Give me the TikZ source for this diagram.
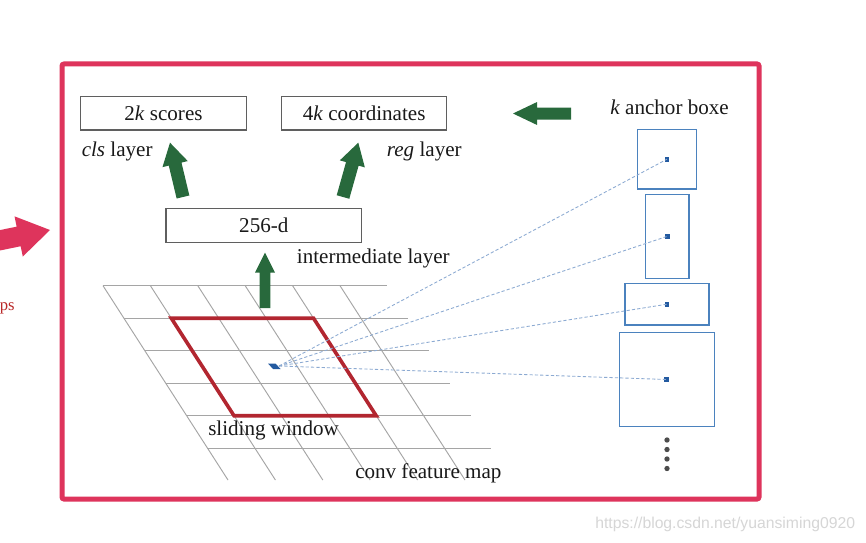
\documentclass[tikz,border=0pt]{standalone}
\usepackage{fontspec}
\setmainfont{Liberation Serif}
\newfontfamily\wmfont{Liberation Sans}
\usetikzlibrary{calc}
\definecolor{framepink}{RGB}{222,52,92}
\definecolor{arrowgreen}{RGB}{40,105,60}
\definecolor{winred}{RGB}{178,38,48}
\definecolor{anchorblue}{RGB}{75,130,190}
\definecolor{dotblue}{RGB}{35,90,160}
\definecolor{dashblue}{RGB}{140,170,210}
\definecolor{gridgray}{RGB}{165,165,165}
\definecolor{boxgray}{RGB}{95,95,95}
\definecolor{textblack}{RGB}{25,25,25}
\definecolor{psred}{RGB}{185,40,40}
\newcommand\blockarrow[6]{%
  \path ($(#2)!#4!(#1)$) coordinate (hb);
  \fill[#6] ($(#1)!#3!90:(#2)$) -- ($(hb)!#3!90:(#2)$) -- ($(hb)!#5!90:(#2)$)
    -- (#2) -- ($(hb)!#5!-90:(#2)$) -- ($(hb)!#3!-90:(#2)$) -- ($(#1)!#3!-90:(#2)$) -- cycle;
}
\begin{document}
\begin{tikzpicture}[x=0.75pt,y=-0.75pt,
  font=\fontsize{15.8}{18}\selectfont,
  layerbox/.style={draw=boxgray,line width=1.1pt,inner sep=0pt,text=textblack},
  lbl/.style={inner sep=0pt,text=textblack},
  anchorbox/.style={draw=anchorblue,line width=1.1pt,inner sep=0pt},
  ctrdot/.style={fill=dotblue,inner sep=0pt,minimum size=3.5pt},
  dashline/.style={draw=dashblue,line width=0.65pt,dash pattern=on 2.4pt off 1.6pt},
  gridline/.style={draw=gridgray,line width=0.7pt},
  vdot/.style={circle,fill=black!70,inner sep=0pt,minimum size=4pt},
]
\fill[white] (0,0) rectangle (866,542);
\useasboundingbox (0,0) rectangle (866,542);

% pink arrow at left edge (cropped)
\coordinate (pt) at (-20,244.4);
\coordinate (ph) at (50,230);
\blockarrow{pt}{ph}{7.5pt}{24pt}{15.4pt}{framepink}
\node[inner sep=0pt,anchor=base east,text=psred,font=\fontsize{12.5}{14}\selectfont] (ps) at (15,310) {ps};

% frame
\draw[framepink,line width=3.75pt,rounded corners=1.5pt] (62,64) rectangle (759,499);

% grid of the conv feature map
\foreach \i in {0,...,5}{
  \draw[gridline] ({103+0.643*32.5*\i},{285.7+32.5*\i}) -- ++(284,0);
}
\foreach \j in {0,...,5}{
  \draw[gridline] ({103+47.4*\j},285.7) -- ++(125,194.3);
}
% sliding window
\draw[winred,line width=2.7pt,line join=miter] (171.3,318.2) -- (313.5,318.2) -- (376.2,415.7) -- (234,415.7) -- cycle;

% anchor boxes
\node[anchorbox,minimum width=44.5pt,minimum height=44.8pt] (b1) at (667,159.2) {};
\node[anchorbox,minimum width=32.5pt,minimum height=63pt] (b2) at (667.3,236.3) {};
\node[anchorbox,minimum width=63pt,minimum height=31.3pt] (b3) at (667,304.2) {};
\node[anchorbox,minimum width=71.25pt,minimum height=70.8pt] (b4) at (666.8,379.5) {};
\node[ctrdot] (d1) at (b1.center) {};
\node[ctrdot] (d2) at (b2.center) {};
\node[ctrdot] (d3) at (b3.center) {};
\node[ctrdot] (d4) at (b4.center) {};
\foreach \k/\y in {1/440,2/449.5,3/459,4/468.5}{
  \node[vdot] (v\k) at (667,\y) {};
}

% centre of the window and the dashed lines
\fill[dotblue] (268,363.5) -- (275.5,363.5) -- (280.5,369) -- (273,369) -- cycle;
\coordinate (src) at (279,366);
\foreach \k in {1,...,4}{
  \draw[dashline] (src) -- (d\k.center);
}

% layer boxes
\node[layerbox,minimum width=124.8pt,minimum height=25pt] (cls) at (163.5,113.3) {2\textit{k} scores};
\node[layerbox,minimum width=123.75pt,minimum height=25pt] (reg) at (364.2,113.3) {4\textit{k} coordinates};
\node[layerbox,minimum width=146.8pt,minimum height=25.5pt] (mid) at (263.8,225.3) {256-d};

% labels
\node[lbl,anchor=base west] (clsl) at (81.5,156.7) {\textit{cls} layer};
\node[lbl,anchor=base west] (regl) at (386.7,156.7) {\textit{reg} layer};
\node[lbl,anchor=base west] (midl) at (296.7,263.3) {intermediate layer};
\node[lbl,anchor=base west] (swl) at (208,435.7) {sliding window};
\node[lbl,anchor=base west] (cfl) at (355,478.3) {conv feature map};
\node[lbl,anchor=base west] (akl) at (610,114) {\textit{k} anchor boxe};

% green block arrows
\coordinate (a1t) at (183,197);   \coordinate (a1h) at (170,142.7);
\coordinate (a2t) at (343,197);   \coordinate (a2h) at (358.3,142.7);
\coordinate (a3t) at (265,308);   \coordinate (a3h) at (265,252.7);
\coordinate (a4t) at (571,113.5); \coordinate (a4h) at (513,113.5);
\blockarrow{a1t}{a1h}{4.9pt}{16.5pt}{9.75pt}{arrowgreen}
\blockarrow{a2t}{a2h}{4.9pt}{16.5pt}{9.75pt}{arrowgreen}
\blockarrow{a3t}{a3h}{4.1pt}{15pt}{7.5pt}{arrowgreen}
\blockarrow{a4t}{a4h}{4.5pt}{18pt}{8.6pt}{arrowgreen}

% watermark
\node[inner sep=0pt,anchor=base west,text=black!16,font=\wmfont\fontsize{11.8}{13}\selectfont] (wm) at (595,528) {https://blog.csdn.net/yuansiming0920};
\end{tikzpicture}
\end{document}
